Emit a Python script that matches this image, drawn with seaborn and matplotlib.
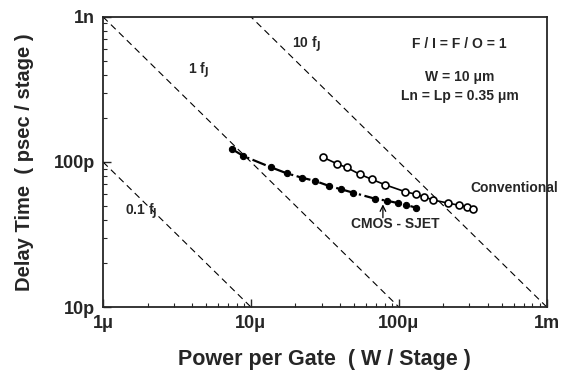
import numpy as np
import pandas as pd
import seaborn as sns
import matplotlib.pyplot as plt
from matplotlib.ticker import FixedLocator, LogLocator, NullFormatter

# power per gate (uW) and delay (ps)
sjet_power = [7.41, 8.87, 13.6, 17.4, 22.0, 27.1, 33.8, 40.7, 49.1, 69.4, 83.4, 98.2, 112, 130]
sjet_delay = [123, 110, 92, 83.6, 78.0, 74.0, 68.3, 64.8, 61.4, 55.7, 54.0, 52.1, 50.5, 48.5]
conv_power = [30.5, 38.1, 44.3, 54.2, 65.4, 80.4, 110, 130, 149, 170, 214, 255, 287, 318]
conv_delay = [108, 97.2, 91.6, 82.4, 76.0, 69.7, 62.4, 59.9, 57.4, 54.7, 52.1, 50.3, 49.2, 47.7]
energies_fj = [0.1, 1, 10]
x_ticks = [1, 10, 100, 1000]
x_labels = ['1\u03bc', '10\u03bc', '100\u03bc', '1m']
y_ticks = [10, 100, 1000]
y_labels = ['10p', '100p', '1n']

sns.set_style('ticks')
plt.rcParams['font.family'] = ['Liberation Sans', 'DejaVu Sans']
plt.rcParams['font.weight'] = 'bold'
plt.rcParams['mathtext.default'] = 'bf'

fig = plt.figure(figsize=(5.69, 3.74), dpi=100)
ax = fig.add_axes([0.181, 0.179, 0.78, 0.776])

# constant switching energy lines
p = np.array([1, 1000])
for e in energies_fj:
    ax.plot(p, 1000 * e / p, color='black', lw=0.8, ls=(0, (6, 4)))

sjet = pd.DataFrame({'power': sjet_power, 'delay': sjet_delay})
conv = pd.DataFrame({'power': conv_power, 'delay': conv_delay})
sns.lineplot(data=sjet, x='power', y='delay', ax=ax, color='black', lw=1.6,
             linestyle='-.', marker='o', markersize=4.5, markeredgecolor='black',
             sort=False)
sns.lineplot(data=conv, x='power', y='delay', ax=ax, color='black', lw=1.2,
             marker='o', markersize=5, markerfacecolor='white',
             markeredgecolor='black', markeredgewidth=1.2, sort=False)

ax.set_xscale('log')
ax.set_yscale('log')
ax.set_xlim(1, 1000)
ax.set_ylim(10, 1000)
ax.xaxis.set_major_locator(FixedLocator(x_ticks))
ax.yaxis.set_major_locator(FixedLocator(y_ticks))
ax.set_xticklabels(x_labels, fontsize=13, fontweight='bold')
ax.set_yticklabels(y_labels, fontsize=13, fontweight='bold')
ax.xaxis.set_minor_locator(LogLocator(base=10, subs=np.arange(2, 10)))
ax.yaxis.set_minor_locator(LogLocator(base=10, subs=np.arange(2, 10)))
ax.xaxis.set_minor_formatter(NullFormatter())
ax.yaxis.set_minor_formatter(NullFormatter())
ax.tick_params(which='both', direction='in', top=False, right=False)
ax.tick_params(which='major', length=6, width=1, pad=6)
ax.tick_params(which='minor', length=3, width=0.8)
for s in ax.spines.values():
    s.set_linewidth(1.3)

ax.set_xlabel('Power per Gate  ( W / Stage )', fontsize=15.5, fontweight='bold', labelpad=12)
ax.set_ylabel('Delay Time  ( psec / stage )', fontsize=14.5, fontweight='bold', labelpad=14)

ax.text(3.75, 431, '1 f$_J$', fontsize=10, ha='left', va='center')
ax.text(18.9, 651, '10 f$_J$', fontsize=10, ha='left', va='center')
ax.text(1.41, 46, '0.1 f$_J$', fontsize=10, ha='left', va='center')
ax.text(258, 651, 'F / I = F / O = 1', fontsize=10, ha='center', va='center')
ax.text(258, 386, 'W = 10 \u03bcm', fontsize=10, ha='center', va='center')
ax.text(258, 285, 'Ln = Lp = 0.35 \u03bcm', fontsize=10, ha='center', va='center')
ax.text(302, 66, 'Conventional', fontsize=10, ha='left', va='center')
ax.text(94, 37.4, 'CMOS - SJET', fontsize=10, ha='center', va='center')
ax.annotate('', xy=(78, 51), xytext=(78, 41.3),
            arrowprops=dict(arrowstyle='->', color='black', lw=0.9, shrinkA=0, shrinkB=0))

fig.savefig('out.png', dpi=100)
